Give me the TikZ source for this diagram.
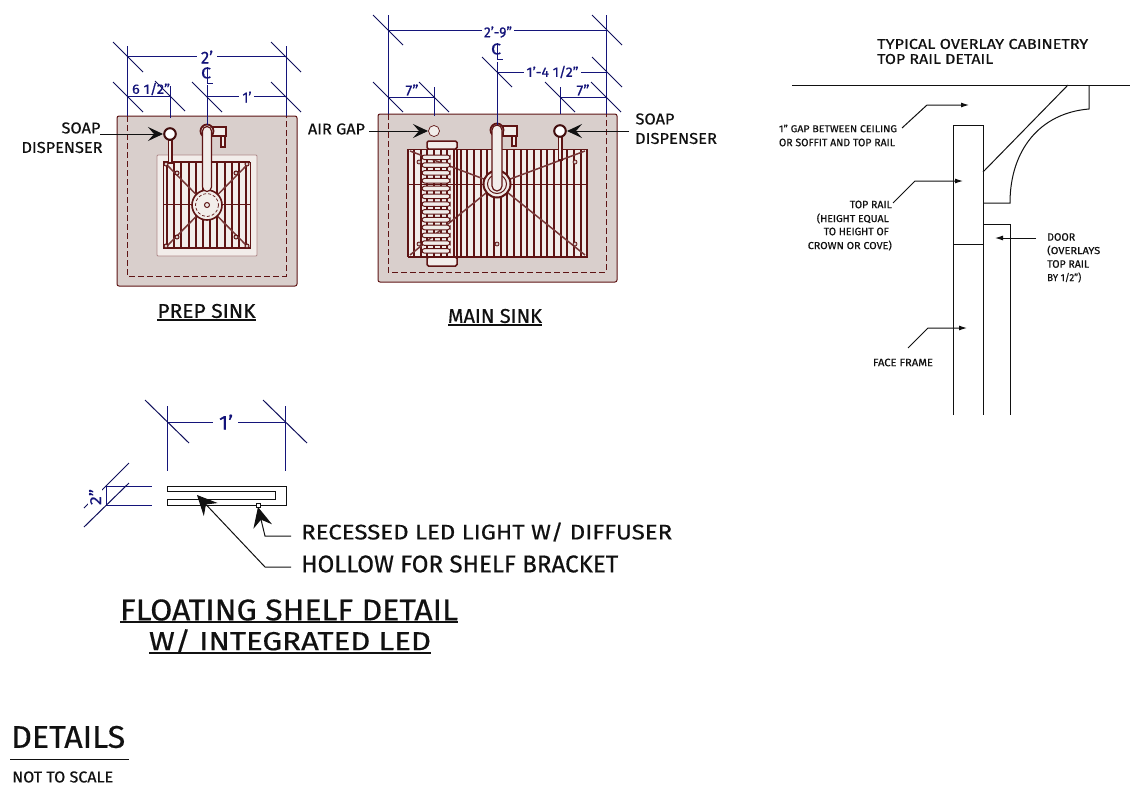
\documentclass[tikz,border=0pt]{standalone}
\usepackage{fontspec}
\usepackage{graphicx}
\setmainfont{Fira Sans}[FakeBold=0.5]
\usetikzlibrary{arrows.meta}
\definecolor{dimblue}{HTML}{14147A}
\definecolor{sinkred}{HTML}{5E1414}
\definecolor{counter}{HTML}{D9CFCC}
\definecolor{basin}{HTML}{F2EDEA}
\definecolor{inkblack}{HTML}{111111}
\newcommand{\FT}[3]{\resizebox{#1pt}{#2pt}{#3}}
\tikzset{
  dimline/.style={draw=dimblue,line width=1pt},
  tickline/.style={draw=dimblue!75!black,line width=1pt},
  counterbox/.style={draw=sinkred,fill=counter,line width=1pt,rounded corners=2pt},
  dashline/.style={draw=sinkred,line width=.8pt,dash pattern=on 6pt off 3pt},
  bar/.style={draw=sinkred,line width=1.9pt},
  diag/.style={draw=sinkred!85!white,line width=1.5pt},
  thin red/.style={draw=sinkred,line width=1pt},
  tube/.style={draw=sinkred,fill=basin,line width=1.2pt},
  ink/.style={draw=inkblack,line width=1pt},
  bigarrow/.style={ink,-{Stealth[length=15pt,width=14pt,inset=6pt]}},
  smallarrow/.style={ink,-{Latex[length=8pt,width=5pt]}},
  lab/.style={inner sep=0pt,text=inkblack},
  dimlab/.style={inner sep=0pt,text=dimblue},
  whitelab/.style={dimlab,fill=white,inner sep=1pt},
  rule/.style={draw=inkblack,line width=1.5pt}
}
\begin{document}
\begin{tikzpicture}[x=1pt,y=-1pt]
\useasboundingbox (0,0) rectangle (1136,788);
\fill[white] (0,0) rectangle (1136,788);

%% ---------- PREP SINK ----------
\draw[counterbox] (117,116) rectangle (297,286);
\draw[dashline] (127,116) -- (127,276) -- (286,276) -- (286,116);
\draw[draw=sinkred!50!white,fill=basin,line width=.8pt,rounded corners=1pt] (157,155) rectangle (257,256);
\draw[thin red] (163,162) rectangle (250,248);
\foreach \x in {167,174.2,...,248}{\draw[bar] (\x,163) -- (\x,247);}
\draw[bar] (163,162) -- (250,162);
\draw[bar] (163,248) -- (250,248);
\draw[thin red] (163,204) -- (250,204);
\draw[diag] (166,164) -- (248,247);
\draw[diag] (248,164) -- (166,247);
\foreach \p in {(166,164),(247,164),(166,246),(247,246),(177,173),(236,173),(177,237),(236,237)}{\draw[thin red,fill=counter] \p circle (2);}
\draw[tube,line width=1.6pt] (207,205) circle (15);
\draw[dashline,dash pattern=on 3pt off 2pt,line width=.7pt] (207,205) circle (11.5);
\draw[thin red,fill=basin] (207,205) circle (2.5);
\draw[tube] (212,127) rectangle (226,136);
\draw[tube] (221,136) rectangle (225,147);
\draw[tube,line width=1.8pt] (207,131) circle (6.5);
\draw[tube] (202.5,131) -- (202.5,187) arc (180:0:4.5) -- (211.5,131) arc (0:-180:4.5);
\draw[tube,line width=1.8pt] (168.5,140) rectangle (172,163);
\draw[tube,draw=sinkred!70!black,line width=2pt,fill=white] (170,134) circle (5.8);

%% dimensions prep
\draw[dimline] (127,56) -- (197,56) (217,56) -- (286,56);
\node[dimlab] (prepW) at (207,57) {\FT{12}{13}{2'}};
\draw[dimline] (127,46) -- (127,116) (286,46) -- (286,116);
\draw[tickline] (113,42) -- (143,72) (271,42) -- (301,72);
\draw[dimline] (127,96) -- (170,96) (207,96) -- (239,96) (254,96) -- (286,96);
\draw[dimline] (170,86) -- (170,118);
\draw[dimline] (207,85) -- (207,125);
\draw[tickline] (113,82) -- (143,112) (155,81) -- (185,111) (192,82) -- (222,112) (271,82) -- (301,112);
\node[dimlab] (prepA) at (151,89) {\FT{38}{11}{6 1/2"}};
\node[dimlab] (prepB) at (247,97) {\FT{9}{11}{1'}};
\node[dimlab] (prepC) at (206,73) {\FT{10}{11}{C}};
\draw[dimline] (207,67) -- (207,83) -- (213,83);

%% prep labels
\node[lab] (soapA) at (81,128) {\FT{39}{11}{SOAP}};
\node[lab] (soapB) at (62,147.5) {\FT{81}{11}{DISPENSER}};
\coordinate (soapTip) at (163,134);
\coordinate (soapTail) at (100,134);
\draw[bigarrow] (soapTail) -- (soapTip);
\node[lab] (prepT) at (206.5,311) {\FT{98}{14}{PREP SINK}};
\draw[rule] (157,320) -- (256,320);

%% ---------- MAIN SINK ----------
\draw[counterbox] (378,114) rectangle (617,282);
\draw[dashline] (388,114) -- (388,272) -- (606,272) -- (606,114);
\draw[thin red,fill=basin] (408,149) rectangle (587,257);
\foreach \x in {414,420.67,...,586}{\draw[bar] (\x,150) -- (\x,256);}
\draw[bar] (408,149.5) -- (587,149.5);
\draw[bar] (408,256.5) -- (587,256.5);
\draw[bar,line width=1.4pt] (408,149) -- (408,257) (587,149) -- (587,257);
\draw[thin red] (408,184) -- (587,184);
\draw[diag] (410,151) -- (497,184) -- (585,151);
\draw[diag] (410,255) -- (497,184) -- (585,255);
\foreach \p in {(419,162),(575,162),(419,244),(575,244),(497,244)}{\draw[thin red,fill=counter,line width=.8pt] \p circle (2);}
%% drying rack
\draw[bar,line width=1.5pt,fill=basin,rounded corners=1.5pt] (427,141) rectangle (457,149);
\draw[bar,line width=1.5pt,fill=basin,rounded corners=1.5pt] (427,257) rectangle (457,266);
\draw[bar,line width=1.4pt] (427,149) -- (427,257) (457,149) -- (457,257);
\foreach \y in {155,162.8,...,250}{\draw[thin red,fill=basin,rounded corners=2.5pt] (422,\y) rectangle (450,\y+4.6);}
\draw[tube,line width=2pt] (497,184) circle (13.5);
\draw[thin red,fill=basin] (497,184) circle (9.5);
\draw[tube] (503,126) rectangle (517,136);
\draw[tube] (512,136) rectangle (516,146);
\draw[tube,line width=1.8pt] (497,130) circle (6.5);
\draw[tube] (492,130) -- (492,186) arc (180:0:5) -- (502,130) arc (0:-180:5);
\draw[draw=sinkred,fill=basin,line width=.7pt] (434,131) circle (5.5);
\draw[tube,line width=1.8pt] (558.5,136) rectangle (562,160);
\draw[tube,draw=sinkred!70!black,line width=2pt,fill=white] (560,131) circle (5.8);

%% dimensions main
\draw[dimline] (388,30) -- (482,30) (514,30) -- (606,30);
\draw[dimline] (388,15) -- (388,114) (606,15) -- (606,114);
\draw[tickline] (373,15) -- (403,45) (592,15) -- (622,45);
\node[dimlab] (mainW) at (498,32) {\FT{28}{11}{2'-9"}};
\draw[dimline] (497,72) -- (524,72) (581,72) -- (606,72);
\draw[dimline] (497,62) -- (497,125);
\draw[tickline] (482,57) -- (512,87) (592,57) -- (622,87);
\node[dimlab] (mainC) at (552.5,72) {\FT{52}{11}{1'-4 1/2"}};
\node[dimlab] (mainCa) at (496,49) {\FT{10}{11}{C}};
\draw[dimline] (497,43) -- (497,59) -- (503,59);
\draw[dimline] (388,97) -- (434,97) (560,97) -- (606,97);
\draw[dimline] (434,87) -- (434,116) (560,87) -- (560,114);
\draw[tickline] (373,82) -- (403,112) (419,82) -- (449,112) (545,82) -- (575,112) (591,82) -- (621,112);
\node[dimlab] (mainD) at (412,90) {\FT{13}{11}{7"}};
\node[dimlab] (mainE) at (583,90) {\FT{13}{11}{7"}};

%% main labels
\node[lab] (airgap) at (336.5,129) {\FT{57}{11}{AIR GAP}};
\coordinate (gapTip) at (428,131);
\coordinate (gapTail) at (369,131);
\draw[bigarrow] (gapTail) -- (gapTip);
\node[lab] (soapC) at (655,119) {\FT{39}{11}{SOAP}};
\node[lab] (soapD) at (676,138.5) {\FT{82}{11}{DISPENSER}};
\coordinate (soap2Tip) at (567,131);
\coordinate (soap2Tail) at (629,131);
\draw[bigarrow] (soap2Tail) -- (soap2Tip);
\node[lab] (mainT) at (495,316) {\FT{94}{14}{MAIN SINK}};
\draw[rule] (448,325) -- (542,325);

%% ---------- TOP RAIL DETAIL ----------
\node[lab,anchor=west] (t1) at (877,44) {\FT{211}{10}{TYPICAL OVERLAY CABINETRY}};
\node[lab,anchor=west] (t2) at (877,59) {\FT{116}{10}{TOP RAIL DETAIL}};
\draw[ink] (792,85) -- (1130,85);
\draw[ink] (1068,85) -- (983,172);
\draw[ink] (1089,85) -- (1089,109) .. controls (1040,113) and (1010,150) .. (1010,203) -- (983,203);
\draw[ink] (953,415) -- (953,125.5) -- (983,125.5) -- (983,415);
\draw[ink] (953,244) -- (983,244);
\draw[ink] (983,224) -- (1010,224) -- (1010,415);

\node[lab] (gap1) at (838,128.5) {\FT{118}{7.5}{1" GAP BETWEEN CEILING}};
\node[lab] (gap2) at (837,142.5) {\FT{116}{7.5}{OR SOFFIT AND TOP RAIL}};
\coordinate (gapA) at (902,128); \coordinate (gapB) at (927,105); \coordinate (gapC) at (969,105);
\draw[smallarrow] (gapA) -- (gapB) -- (gapC);
\node[lab,anchor=east] (r1) at (892,204.5) {\FT{42}{7.5}{TOP RAIL}};
\node[lab,anchor=east] (r2) at (889,218.5) {\FT{72}{8.5}{(HEIGHT EQUAL}};
\node[lab,anchor=east] (r3) at (889,231.5) {\FT{65}{7.5}{TO HEIGHT OF}};
\node[lab,anchor=east] (r4) at (892,245.5) {\FT{84}{8.5}{CROWN OR COVE)}};
\coordinate (railA) at (893,203); \coordinate (railB) at (915,181); \coordinate (railC) at (963,181);
\draw[smallarrow] (railA) -- (railB) -- (railC);
\node[lab,anchor=west] (d1) at (1047,237) {\FT{28}{7.5}{DOOR}};
\node[lab,anchor=west] (d2) at (1047,250.5) {\FT{53}{8.5}{(OVERLAYS}};
\node[lab,anchor=west] (d3) at (1047,264) {\FT{42}{7.5}{TOP RAIL}};
\node[lab,anchor=west] (d4) at (1047,277.5) {\FT{34}{8.5}{BY 1/2")}};
\coordinate (doorA) at (1036,238); \coordinate (doorB) at (995,238);
\draw[smallarrow] (doorA) -- (doorB);
\node[lab] (ff) at (903,362.5) {\FT{60}{7.5}{FACE FRAME}};
\coordinate (ffA) at (908,348); \coordinate (ffB) at (928,328); \coordinate (ffC) at (967,328);
\draw[smallarrow] (ffA) -- (ffB) -- (ffC);

%% ---------- FLOATING SHELF ----------
\draw[dimline] (167,422) -- (213,422) (238,422) -- (285,422);
\draw[dimline] (167,406) -- (167,471) (285,406) -- (285,471);
\draw[tickline] (145,400) -- (189,443) (263,400) -- (307,443);
\node[dimlab] (shelfW) at (226,422) {\FT{14}{15}{1'}};
\draw[ink] (167,491) -- (167,486) -- (286,486) -- (286,505) -- (167,505) -- (167,499) -- (275,499) -- (275,491) -- (167,491);
\draw[ink,fill=white,line width=.8pt] (256,503.5) rectangle (260,507.5);
\draw[dimline] (106,486) -- (152,486) (106,505) -- (152,505) (106,486) -- (106,505);
\draw[tickline] (84,508) -- (129,463) (84,527) -- (129,483);
\node[whitelab,rotate=90] (shelfH) at (95,497) {\FT{16}{12}{2"}};
\coordinate (hollowTail) at (291,567); \coordinate (hollowBend) at (265,567); \coordinate (hollowTip) at (197,495);
\draw[ink,-{Stealth[length=20pt,width=19pt,inset=7pt]}] (hollowTail) -- (hollowBend) -- (hollowTip);
\coordinate (ledTail) at (291,536); \coordinate (ledBend) at (265,536); \coordinate (ledTip) at (258,507);
\draw[ink,-{Stealth[length=20pt,width=19pt,inset=7pt]}] (ledTail) -- (ledBend) -- (ledTip);
\node[lab,anchor=west] (led) at (301,532) {\FT{371}{17}{RECESSED LED LIGHT W/ DIFFUSER}};
\node[lab,anchor=west] (hollow) at (301,564) {\FT{317}{17}{HOLLOW FOR SHELF BRACKET}};
\node[lab] (fs1) at (289,610) {\FT{338}{21}{FLOATING SHELF DETAIL}};
\draw[rule,line width=1.8pt] (120,622) -- (458,622);
\node[lab] (fs2) at (290,641) {\FT{282}{21}{W/ INTEGRATED LED}};
\draw[rule,line width=1.8pt] (149,653) -- (431,653);

%% ---------- DETAILS ----------
\node[lab,anchor=west] (det) at (11,737) {\FT{114}{22}{DETAILS}};
\draw[ink] (10,759) -- (129,759);
\node[lab,anchor=west] (nts) at (12,777) {\FT{101}{11}{NOT TO SCALE}};
\end{tikzpicture}
\end{document}
